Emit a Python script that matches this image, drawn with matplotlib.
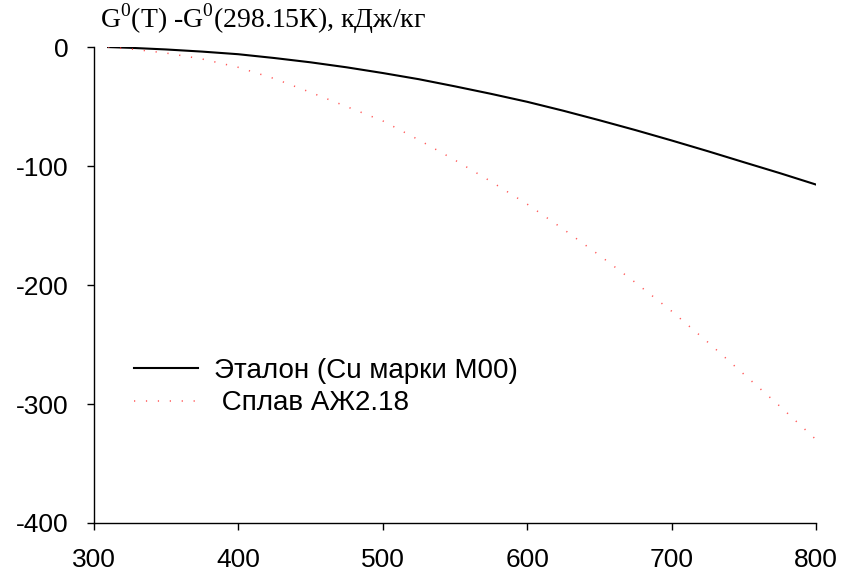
import matplotlib.pyplot as plt

plt.rcParams['font.family'] = ['Liberation Sans', 'DejaVu Sans']
plt.rcParams['mathtext.fontset'] = 'custom'
plt.rcParams['mathtext.rm'] = 'Liberation Serif'
plt.rcParams['axes.unicode_minus'] = False

# temperature, K
temp = [310, 325, 350, 375, 400, 425, 450, 475, 500, 525, 550,
        575, 600, 625, 650, 675, 700, 725, 750, 775, 800]
# G(T) - G(298.15 K), kJ/kg
g_ref = [0, -0.6, -2, -3.8, -6, -9.2, -12.8, -17, -21.8, -27, -33,
         -39.3, -46, -53.5, -61.5, -69.8, -78.5, -87.5, -96.8, -106, -115.6]
g_alloy = [0, -1.5, -5, -10, -17, -26.5, -38, -50, -62, -78, -95,
           -113, -132, -153, -175, -198, -222, -248, -275, -302, -330]

labels = ['Эталон (Cu марки М00)', ' Сплав АЖ2.18']
x_ticks = [300, 400, 500, 600, 700, 800]
y_ticks = [0, -100, -200, -300, -400]

fig = plt.figure(figsize=(8.44, 5.72), dpi=100)
ax = fig.add_axes([0.111, 0.0857, 0.856, 0.832])

ax.plot(temp, g_ref, color='black', lw=1.5, label=labels[0])
ax.plot(temp, g_alloy, color='#ff3b3b', lw=1.1, alpha=0.85,
        linestyle=(0, (0.8, 7)), label=labels[1])

ax.set_xlim(300, 800)
ax.set_ylim(-400, 0)
ax.set_xticks(x_ticks)
ax.set_yticks(y_ticks)
ax.tick_params(labelsize=19, direction='out', length=5, width=1, colors='black')
ax.tick_params(axis='x', pad=13)
ax.tick_params(axis='y', pad=13)
for side in ['top', 'right']:
    ax.spines[side].set_visible(False)
for side in ['left', 'bottom']:
    ax.spines[side].set_linewidth(1)

fig.text(0.118, 0.951, r'G$^0$(T) -G$^0$(298.15К), кДж/кг',
         family='Liberation Serif', fontsize=20, ha='left', va='baseline')

ax.legend(loc='upper left', bbox_to_anchor=(0.04, 0.371), frameon=False,
          fontsize=20, handlelength=2.3, handletextpad=0.6, labelspacing=0.25,
          borderaxespad=0)

fig.savefig('out.png', dpi=100)
